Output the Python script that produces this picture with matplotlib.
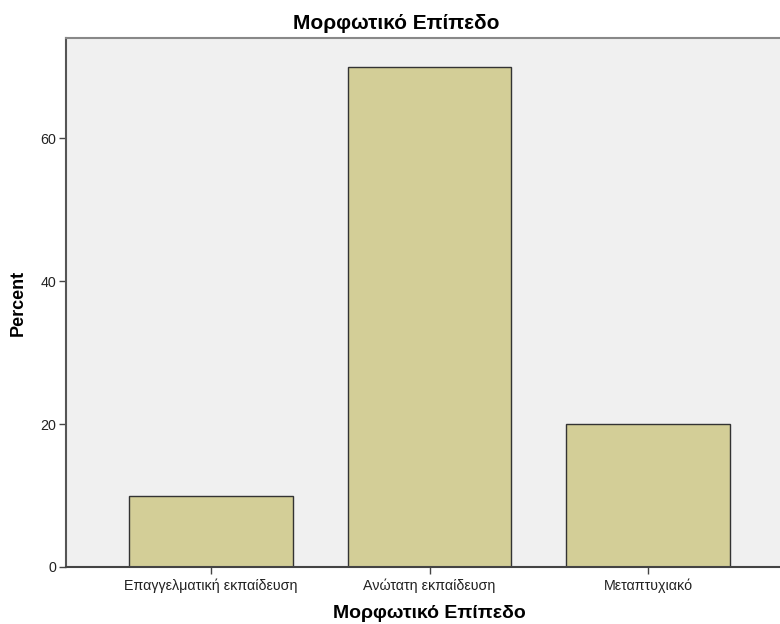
import matplotlib.pyplot as plt
import numpy as np

plt.rcParams['font.family'] = ['Liberation Sans', 'DejaVu Sans']

categories = ['Επαγγελματική εκπαίδευση', 'Ανώτατη εκπαίδευση', 'Μεταπτυχιακό']
percent = [10, 70, 20]
title = 'Μορφωτικό Επίπεδο'

fig = plt.figure(figsize=(7.8, 6.24), dpi=100)
# plot area runs off the right edge like the original export
ax = fig.add_axes([66 / 780, 57 / 624, 727 / 780, 529 / 624])
ax.set_facecolor('#F0F0F0')

x = np.arange(len(categories))
ax.bar(x, percent, width=0.75, color='#D3CE97', edgecolor='#333333', linewidth=1.0, zorder=2)

ax.set_xlim(-0.664, 2.664)
ax.set_ylim(0, 74)
ax.set_yticks([0, 20, 40, 60])
ax.set_xticks(x)
ax.set_xticklabels(categories, fontsize=10.3, color='#222222')
ax.tick_params(axis='y', labelsize=10.3, labelcolor='#222222', length=5, width=1, color='#444444', pad=2)
ax.tick_params(axis='x', length=5, width=1, color='#444444', pad=3)

for s in ['top', 'right']:
    ax.spines[s].set_color('#888888')
    ax.spines[s].set_linewidth(1.5)
ax.spines['left'].set_color('#555555')
ax.spines['bottom'].set_color('#444444')
ax.spines['left'].set_linewidth(1.5)
ax.spines['bottom'].set_linewidth(1.5)

ax.set_ylabel('Percent', fontsize=13, fontweight='bold', labelpad=10)
ax.set_xlabel(title, fontsize=14, fontweight='bold', labelpad=9)
fig.text(0.508, 0.962, title, ha='center', va='center', fontsize=15, fontweight='bold')

fig.savefig('out.png', dpi=100)
